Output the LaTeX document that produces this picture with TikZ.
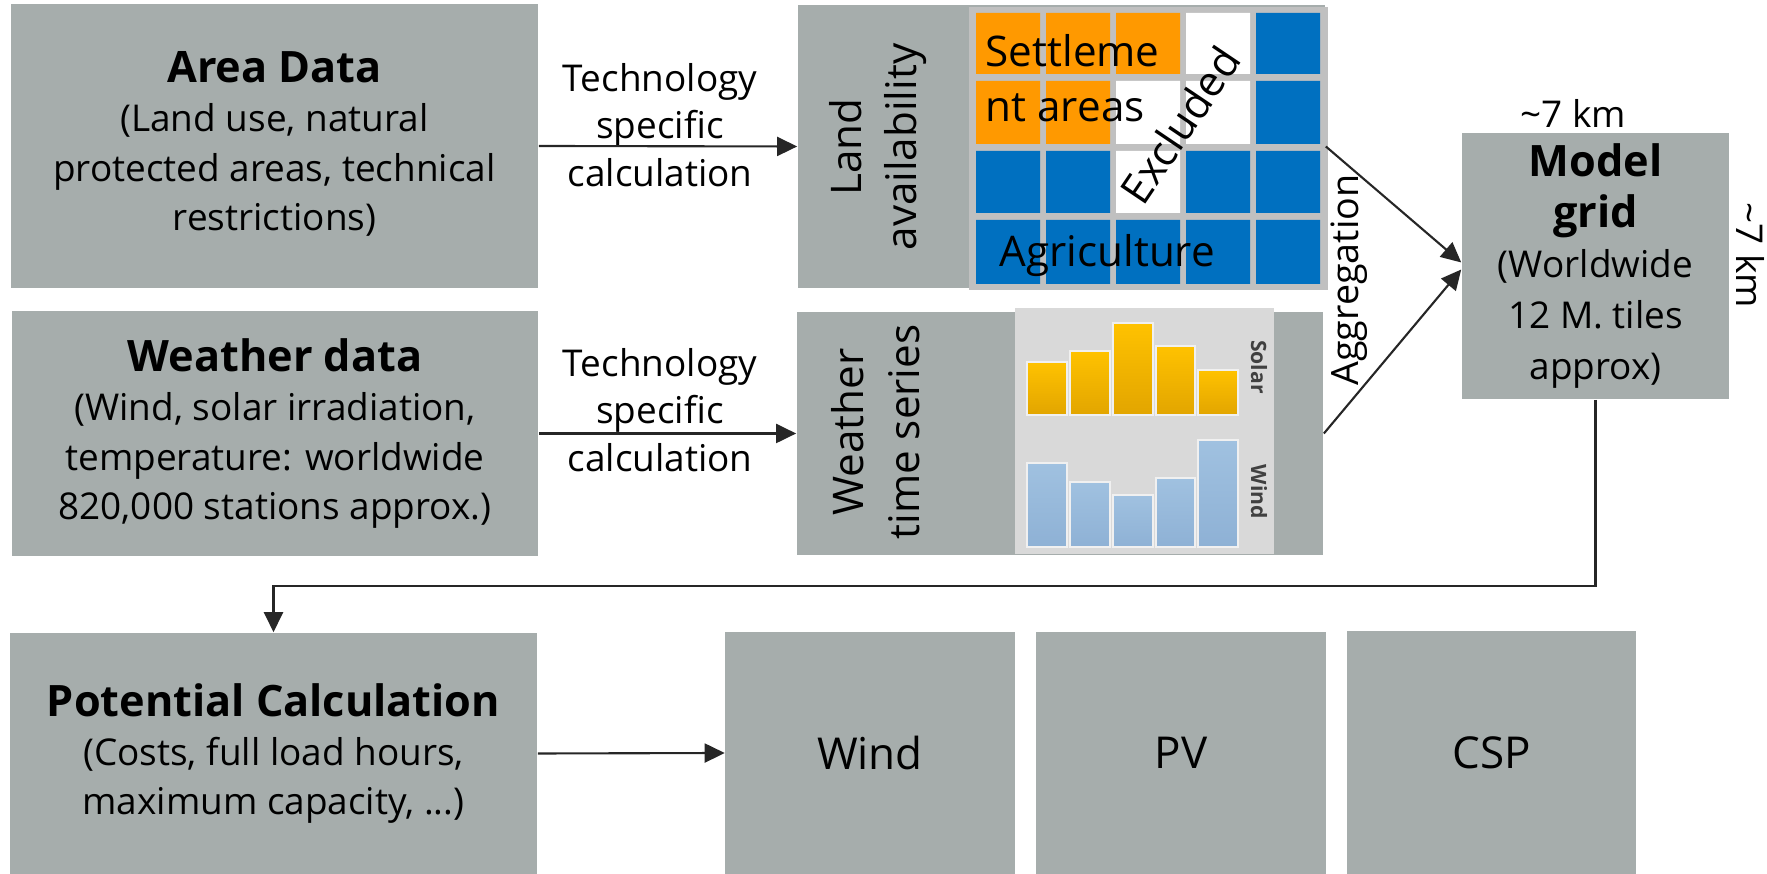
\documentclass[tikz,border=0pt]{standalone}
\usepackage{fontspec}
\setmainfont{Open Sans}
\usepackage{tikz}
\usetikzlibrary{arrows.meta}
\definecolor{mygrey}{RGB}{166,173,172}
\definecolor{myorange}{RGB}{255,153,0}
\definecolor{myblue}{RGB}{0,112,192}
\definecolor{gridgrey}{RGB}{192,192,192}
\definecolor{chartgrey}{RGB}{217,217,217}
\tikzset{
	box/.style={
		fill=mygrey,
		inner sep=0pt,
		align=center,
		font=\fontsize{10.5}{14}\selectfont
	},
	result/.style={
		box,
		minimum width=2.89cm,
		minimum height=2.42cm,
		font=\fontsize{12.5}{15}\selectfont
	}
}
\newcommand{\myhead}{\bfseries\fontsize{12.3}{14}\selectfont}

\begin{document}
\begin{tikzpicture}[x=0.01cm,y=-0.01cm]
		\tikzset{edge/.style={-{Triangle[length=0.2cm,width=0.19cm]}, line width=0.6pt, black!85}}
		\tikzset{txt/.style={inner sep=0pt, align=center, font=\fontsize{10.5}{13.6}\selectfont}}
		\tikzset{side/.style={inner sep=0pt, align=center, rotate=90, font=\fontsize{12}{15.9}\selectfont}}
		\tikzset{celltxt/.style={inner sep=0pt, anchor=base west, font=\fontsize{12}{14}\selectfont}}
		\tikzset{solarbar/.style={top color={rgb,255:red,255;green,194;blue,0}, bottom color={rgb,255:red,226;green,165;blue,0}, draw=white!60!chartgrey, line width=0.3pt}}
		\tikzset{windbar/.style={top color={rgb,255:red,160;green,193;blue,224}, bottom color={rgb,255:red,142;green,177;blue,213}, draw=white!60!chartgrey, line width=0.3pt}}
		
		\useasboundingbox (0,0) rectangle (1767,874);
		
		% input data
		\node(area) at (274.5,146) [box,minimum width=5.27cm,minimum height=2.84cm,text depth=0.1cm] {{\myhead Area Data}\\(Land use, natural\\protected areas, technical\\restrictions)};
		\node(weather) at (275,433.5) [box,minimum width=5.26cm,minimum height=2.45cm] {{\myhead Weather data}\\(Wind, solar irradiation,\\temperature: worldwide\\820,000 stations approx.)};
		
		\node(tech1) at (660,125) [txt] {Technology\\specific\\calculation};
		\node(tech2) at (660,410) [txt] {Technology\\specific\\calculation};
		
		% land availability
		\node(land) at (1061.5,146.5) [box,minimum width=5.27cm,minimum height=2.83cm] {};
		\node(landtxt) at (878,147) [side] {Land\\availability};
		\fill[gridgrey] (969,7) rectangle (1328,290);
		\fill[myorange] (976,13) rectangle (1040,74) (1046,13) rectangle (1110,74) (1116,13) rectangle (1180,74)
			(976,81) rectangle (1040,144) (1046,81) rectangle (1110,144);
		\fill[white] (1186,13) rectangle (1250,74) (1116,81) rectangle (1180,144) (1186,81) rectangle (1250,144)
			(1116,151) rectangle (1180,213);
		\fill[myblue] (1256,13) rectangle (1320,74) (1256,81) rectangle (1320,144)
			(976,151) rectangle (1040,213) (1046,151) rectangle (1110,213) (1186,151) rectangle (1250,213) (1256,151) rectangle (1320,213)
			(976,220) rectangle (1040,284) (1046,220) rectangle (1110,284) (1116,220) rectangle (1180,284) (1186,220) rectangle (1250,284) (1256,220) rectangle (1320,284);
		\node(settle1) at (985,67) [celltxt] {Settleme};
		\node(settle2) at (985,122) [celltxt] {nt areas};
		\node(agri) at (999,267) [celltxt] {Agriculture};
		\node(excl) at (1180,125) [inner sep=0pt, rotate=56, font=\fontsize{12}{14}\selectfont] {Excluded};
		
		% weather time series
		\node(wts) at (1060,433.5) [box,minimum width=5.26cm,minimum height=2.43cm] {};
		\node(wtstxt) at (876,432) [side] {Weather\\time series};
		\fill[chartgrey] (1015,308) rectangle (1274,554);
		\shade[solarbar] (1027,362) rectangle (1067,415);
		\shade[solarbar] (1070,351) rectangle (1110,415);
		\shade[solarbar] (1113,323) rectangle (1153,415);
		\shade[solarbar] (1156,346) rectangle (1195,415);
		\shade[solarbar] (1198,370) rectangle (1238,415);
		\shade[windbar] (1027,463) rectangle (1067,547);
		\shade[windbar] (1070,482) rectangle (1110,547);
		\shade[windbar] (1113,495) rectangle (1153,547);
		\shade[windbar] (1156,478) rectangle (1195,547);
		\shade[windbar] (1198,440) rectangle (1238,547);
		\node(solar) at (1259,367) [inner sep=0pt, rotate=-90, text=black!75, font=\bfseries\fontsize{6}{7}\selectfont] {Solar};
		\node(windlbl) at (1259,492) [inner sep=0pt, rotate=-90, text=black!75, font=\bfseries\fontsize{6}{7}\selectfont] {Wind};
		
		% model grid
		\node(grid) at (1595.5,266) [box,minimum width=2.67cm,minimum height=2.66cm,font=\fontsize{10.5}{14.4}\selectfont] {{\myhead Model}\\{\myhead grid}\\(Worldwide\\12 M. tiles\\approx)};
		\node(kmtop) at (1573,113) [txt] {\textasciitilde7 km};
		\node(kmside) at (1750,255) [txt, rotate=-90] {\textasciitilde7 km};
		\node(aggr) at (1349,280) [txt, rotate=90, font=\fontsize{10.7}{13}\selectfont] {Aggregation};
		
		% potentials
		\node(pot) at (273.5,753.5) [box,minimum width=5.27cm,minimum height=2.41cm] {{\myhead Potential Calculation}\\(Costs, full load hours,\\maximum capacity, ...)};
		\node(wind) at (870,753) [result] {Wind};
		\node(pv) at (1181,753) [result,minimum width=2.90cm] {PV};
		\node(csp) at (1491.5,752.5) [result,minimum height=2.43cm] {CSP};
		
		\draw[edge] (area.east) -- (land.west);
		\draw[edge] (weather.east) -- (wts.west);
		
		\draw[edge] (land.east) -- ([yshift=1pt]grid.west);
		\draw[edge] (wts.east) -- ([yshift=-1pt]grid.west);
		
		\draw[edge] (grid.south) -- ++(0,186) -| (pot.north);
		\draw[edge] (pot.east) -- (wind.west);
		\end{tikzpicture}
\end{document}
